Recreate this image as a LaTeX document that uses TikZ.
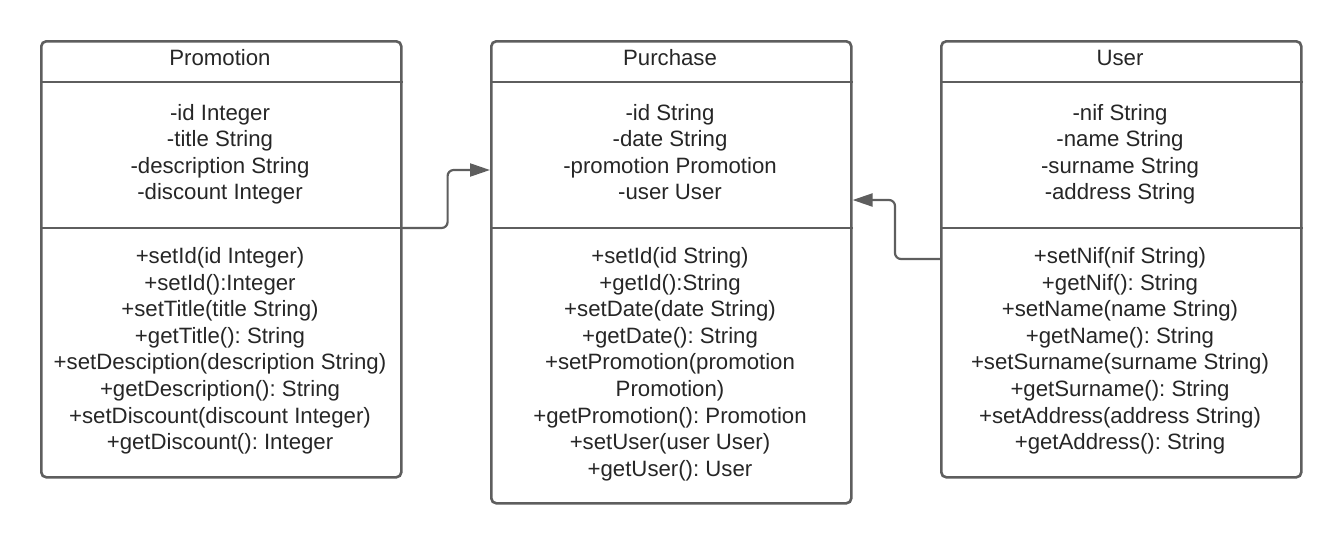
\documentclass[tikz,border=0pt]{standalone}
\usepackage{fontspec}
\setmainfont{Liberation Sans}
\usetikzlibrary{arrows.meta,calc}
\definecolor{ln}{HTML}{5E5E5E}
\definecolor{tx}{HTML}{262626}
\frenchspacing
\begin{document}
\begin{tikzpicture}[x=1pt,y=-1pt,
  cls/.style={draw=ln,line width=2.6pt,rounded corners=5pt,minimum width=360pt,inner sep=0pt,anchor=north west},
  sep/.style={draw=ln,line width=2.6pt},
  txt/.style={text=tx,font=\fontsize{22.2}{26}\selectfont\frenchspacing,anchor=base,inner sep=0pt},
  conn/.style={draw=ln,line width=2.2pt,rounded corners=6pt,-{Triangle[length=20pt,width=13pt]}}]
\useasboundingbox (0,0) rectangle (1340,544);

% boxes
\node[cls,minimum height=436pt] (promo) at (40,40) {};
\node[cls,minimum height=462pt] (purch) at (490,40) {};
\node[cls,minimum height=436pt] (user) at (940,40) {};

% separators
\foreach \b in {promo,purch,user}{
  \coordinate (\b S1L) at ($(\b.north west)+(0,42)$);
  \coordinate (\b S1R) at ($(\b.north east)+(0,42)$);
  \coordinate (\b S2L) at ($(\b.north west)+(0,188)$);
  \coordinate (\b S2R) at ($(\b.north east)+(0,188)$);
  \draw[sep] (\b S1L) -- (\b S1R);
  \draw[sep] (\b S2L) -- (\b S2R);
}

% titles
\node[txt] (promoT) at (220,65) {Promotion};
\node[txt] (purchT) at (670,65) {Purchase};
\node[txt] (userT) at (1120,65) {User};

% attributes
\foreach \t [count=\i] in {{-id Integer},{-title String},{-description String},{-discount Integer}}
  \node[txt] (pa\i) at (220,{120+26.5*(\i-1)}) {\t};
\foreach \t [count=\i] in {{-id String},{-date String},{-promotion Promotion},{-user User}}
  \node[txt] (ua\i) at (670,{120+26.5*(\i-1)}) {\t};
\foreach \t [count=\i] in {{-nif String},{-name String},{-surname String},{-address String}}
  \node[txt] (sa\i) at (1120,{120+26.5*(\i-1)}) {\t};

% methods
\foreach \t [count=\i] in {{+setId(id Integer)},{+setId():Integer},{+setTitle(title String)},{+getTitle(): String},{+setDesciption(description String)},{+getDescription(): String},{+setDiscount(discount Integer)},{+getDiscount(): Integer}}
  \node[txt] (pm\i) at (220,{263.5+26.6*(\i-1)}) {\t};
\foreach \t [count=\i] in {{+setId(id String)},{+getId():String},{+setDate(date String)},{+getDate(): String},{+setPromotion(promotion},{Promotion)},{+getPromotion(): Promotion},{+setUser(user User)},{+getUser(): User}}
  \node[txt] (um\i) at (670,{263.5+26.6*(\i-1)}) {\t};
\foreach \t [count=\i] in {{+setNif(nif String)},{+getNif(): String},{+setName(name String)},{+getName(): String},{+setSurname(surname String)},{+getSurname(): String},{+setAddress(address String)},{+getAddress(): String}}
  \node[txt] (sm\i) at (1120,{263.5+26.6*(\i-1)}) {\t};

% connectors
\coordinate (purchIn1) at ($(purch.north west)+(0,130)$);
\coordinate (purchIn2) at ($(purch.north east)+(0,160)$);
\coordinate (userOut) at ($(user.north west)+(0,219)$);
\draw[conn] (promoS2R) -- ++(45,0) |- (purchIn1);
\draw[conn] (userOut) -- ++(-45,0) |- (purchIn2);
\end{tikzpicture}
\end{document}
